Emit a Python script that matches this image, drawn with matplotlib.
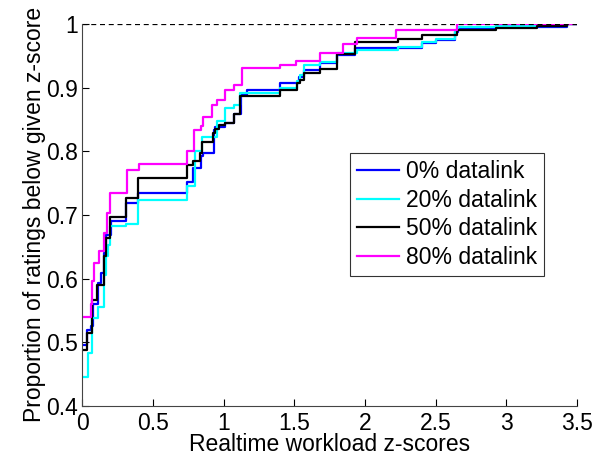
import matplotlib
matplotlib.use('Agg')
import matplotlib.pyplot as plt

plt.rcParams['font.family'] = ['Liberation Sans', 'DejaVu Sans']

labels = ['0% datalink', '20% datalink', '50% datalink', '80% datalink']
colors = ['#0000ff', '#00ffff', '#000000', '#ff00ff']

# step positions (z-score) and cumulative proportion after each step
x_0 = [0, 0.03, 0.058, 0.077, 0.11, 0.133, 0.15, 0.17, 0.20, 0.31, 0.39, 0.74,
       0.786, 0.84, 0.85, 0.93, 0.94, 1.01, 1.07, 1.12, 1.165, 1.40, 1.53,
       1.565, 1.68, 1.80, 1.93, 2.40, 2.50, 2.64, 2.66, 2.93, 3.43, 3.5]
y_0 = [0.495, 0.52, 0.526, 0.56, 0.593, 0.609, 0.64, 0.668, 0.69, 0.718, 0.734,
       0.752, 0.774, 0.792, 0.797, 0.834, 0.838, 0.844, 0.859, 0.889, 0.896,
       0.907, 0.917, 0.928, 0.939, 0.951, 0.962, 0.97, 0.975, 0.988, 0.992,
       0.995, 1.0, 1.0]

x_20 = [0, 0.037, 0.07, 0.112, 0.155, 0.17, 0.183, 0.195, 0.31, 0.39, 0.743,
        0.80, 0.845, 0.95, 1.01, 1.07, 1.117, 1.40, 1.52, 1.54, 1.565, 1.68,
        1.80, 1.94, 2.23, 2.40, 2.50, 2.64, 2.66, 2.93, 3.43, 3.5]
y_20 = [0.446, 0.483, 0.538, 0.556, 0.606, 0.635, 0.653, 0.682, 0.686, 0.723,
        0.745, 0.80, 0.823, 0.848, 0.868, 0.873, 0.892, 0.90, 0.91, 0.92,
        0.935, 0.94, 0.954, 0.959, 0.964, 0.971, 0.976, 0.99, 0.995, 0.997,
        1.0, 1.0]

x_50 = [0, 0.03, 0.07, 0.10, 0.155, 0.17, 0.195, 0.31, 0.39, 0.74, 0.786,
        0.833, 0.845, 0.923, 0.94, 0.963, 1.01, 1.07, 1.117, 1.40, 1.52, 1.54,
        1.565, 1.68, 1.80, 1.93, 2.23, 2.40, 2.65, 2.93, 3.22, 3.43, 3.5]
y_50 = [0.488, 0.514, 0.567, 0.59, 0.635, 0.664, 0.697, 0.726, 0.758, 0.779,
        0.784, 0.797, 0.815, 0.829, 0.835, 0.841, 0.845, 0.859, 0.886, 0.896,
        0.907, 0.912, 0.923, 0.929, 0.952, 0.972, 0.976, 0.983, 0.99, 0.993,
        0.997, 1.0, 1.0]

x_80 = [0, 0.06, 0.07, 0.08, 0.12, 0.15, 0.176, 0.195, 0.315, 0.40, 0.74,
        0.79, 0.84, 0.85, 0.92, 0.95, 1.01, 1.07, 1.13, 1.40, 1.51, 1.68,
        1.845, 1.94, 2.22, 2.65, 3.5]
y_80 = [0.539, 0.56, 0.597, 0.625, 0.643, 0.672, 0.703, 0.735, 0.771, 0.78,
        0.80, 0.834, 0.84, 0.854, 0.872, 0.881, 0.896, 0.904, 0.93, 0.936,
        0.942, 0.954, 0.969, 0.978, 0.99, 1.0, 1.0]

series = [(x_0, y_0), (x_20, y_20), (x_50, y_50), (x_80, y_80)]

fig = plt.figure(figsize=(5.93, 4.59), dpi=100)
ax = fig.add_axes([0.139, 0.1155, 0.834, 0.8325])

for (xs, ys), c, lab in zip(series, colors, labels):
    ax.plot(xs, ys, drawstyle='steps-post', color=c, lw=1.6, label=lab)

ax.plot([0, 3.5], [1, 1], 'k--', lw=0.9, dashes=(4, 3))

ax.set_xlim(0, 3.5)
ax.set_ylim(0.4, 1.0)
ax.set_xticks([0, 0.5, 1, 1.5, 2, 2.5, 3, 3.5])
ax.set_xticklabels(['0', '0.5', '1', '1.5', '2', '2.5', '3', '3.5'])
ax.set_yticks([0.4, 0.5, 0.6, 0.7, 0.8, 0.9, 1.0])
ax.set_yticklabels(['0.4', '0.5', '0.6', '0.7', '0.8', '0.9', '1'])
ax.tick_params(direction='in', labelsize=16.5, length=5)
ax.tick_params(axis='x', pad=4)
ax.tick_params(axis='y', pad=3)
ax.spines['top'].set_visible(False)
ax.spines['right'].set_visible(False)
for s in ['left', 'bottom']:
    ax.spines[s].set_color('#444444')

ax.set_xlabel('Realtime workload z-scores', fontsize=16.5, labelpad=-1)
ax.set_ylabel('Proportion of ratings below given z-score', fontsize=16.5,
              labelpad=0)

leg = ax.legend(loc='upper left', bbox_to_anchor=(0.541, 0.662), fontsize=16.5,
                frameon=True, fancybox=False, handlelength=1.85,
                borderpad=0.3, labelspacing=0.25, handletextpad=0.3,
                borderaxespad=0)
leg.get_frame().set_edgecolor('black')
leg.get_frame().set_linewidth(0.8)
for line in leg.get_lines():
    line.set_linewidth(1.6)

fig.savefig('out.png', dpi=100)
